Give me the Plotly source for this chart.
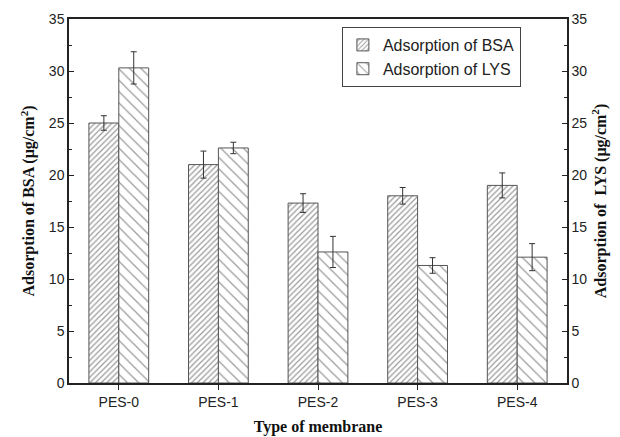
import plotly.graph_objects as go

categories = ["PES-0", "PES-1", "PES-2", "PES-3", "PES-4"]
bsa = [25.0, 21.0, 17.3, 18.0, 19.0]
bsa_err = [0.7, 1.3, 0.9, 0.8, 1.2]
lys = [30.3, 22.6, 12.6, 11.3, 12.1]
lys_err = [1.55, 0.55, 1.5, 0.75, 1.3]
yticks = [0, 5, 10, 15, 20, 25, 30, 35]

fig = go.Figure()
fig.add_trace(go.Bar(
    x=categories, y=bsa, name="Adsorption of BSA",
    marker=dict(color="white", line=dict(color="#555", width=1),
                pattern=dict(shape="/", size=4, solidity=0.3, fgcolor="#333", bgcolor="white")),
    error_y=dict(type="data", array=bsa_err, color="#333", thickness=1, width=3),
))
fig.add_trace(go.Bar(
    x=categories, y=lys, name="Adsorption of LYS",
    marker=dict(color="white", line=dict(color="#555", width=1),
                pattern=dict(shape="\\", size=8, solidity=0.15, fgcolor="#333", bgcolor="white")),
    error_y=dict(type="data", array=lys_err, color="#333", thickness=1, width=3),
))
fig.add_trace(go.Scatter(x=categories, y=[0]*5, yaxis="y2", mode="markers",
                         marker=dict(opacity=0), showlegend=False, hoverinfo="skip"))

tickfont = dict(family="Arial, Liberation Sans", size=14, color="#222")
titlefont = dict(family="Times New Roman, Liberation Serif", size=16, color="#111")

fig.update_layout(
    width=620, height=437,
    margin=dict(l=69, r=53, t=19, b=54),
    plot_bgcolor="white", paper_bgcolor="white",
    barmode="group", bargap=0.4, bargroupgap=0,
    showlegend=True,
    legend=dict(x=0.548, y=0.978, xanchor="left", yanchor="top",
                bordercolor="#444", borderwidth=1, bgcolor="white",
                font=dict(family="Arial, Liberation Sans", size=16, color="#222"),
                tracegroupgap=0, itemwidth=30),
    xaxis=dict(range=[-0.5, 4.5], showline=True, linecolor="#222", linewidth=1.5,
               mirror=True, ticks="outside", ticklen=5, tickcolor="#222",
               tickfont=tickfont, automargin=False,
               minor=dict(ticks="outside", ticklen=4, tickcolor="#222", dtick=1, tick0=0.5),
               title=dict(text="<b>Type of membrane</b>", font=titlefont, standoff=12)),
    yaxis=dict(range=[0, 35], tickvals=yticks, showline=True, linecolor="#222", linewidth=1.5,
               ticks="inside", ticklen=5, tickcolor="#222", showgrid=False, zeroline=False,
               tickfont=tickfont, automargin=False,
               minor=dict(ticks="inside", ticklen=3, tickcolor="#222", dtick=2.5),
               title=dict(text="<b>Adsorption of BSA (μg/cm<sup>2</sup>)</b>", font=titlefont, standoff=10)),
    yaxis2=dict(range=[0, 35], tickvals=yticks, overlaying="y", side="right", anchor="x",
                showline=True, linecolor="#222", linewidth=1.5,
                ticks="inside", ticklen=5, tickcolor="#222", showgrid=False, zeroline=False,
                tickfont=tickfont, automargin=False,
                minor=dict(ticks="inside", ticklen=3, tickcolor="#222", dtick=2.5),
                title=dict(text="<b>Adsorption of  LYS (μg/cm<sup>2</sup>)</b>", font=titlefont, standoff=8)),
)

fig.write_html("out.html")
